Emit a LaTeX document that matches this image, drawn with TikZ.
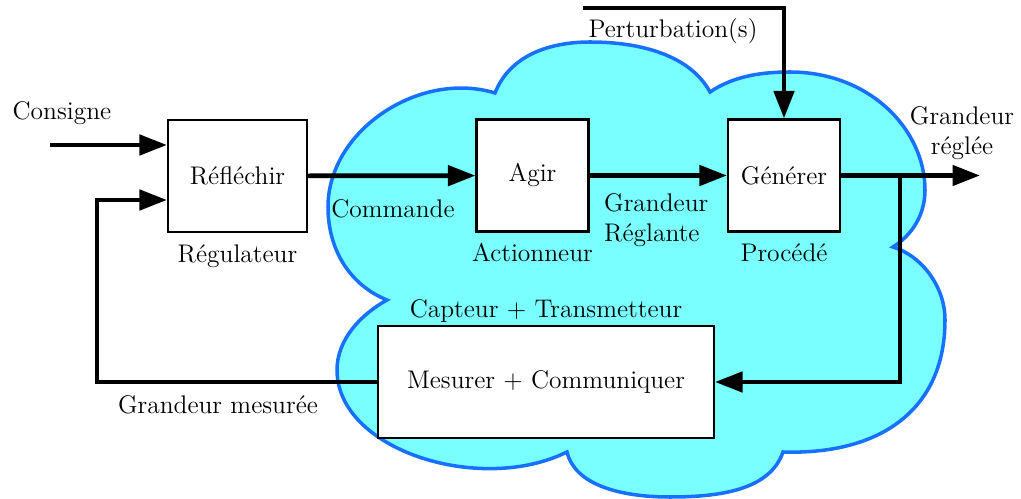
\documentclass[tikz,border=0pt]{standalone}
\usepackage{tikz}
\usetikzlibrary{arrows.meta,positioning}

\definecolor{cloudcyan}{RGB}{122,255,255}
\definecolor{cloudblue}{RGB}{24,112,255}

\begin{document}
\begin{tikzpicture}[
    x=0.02cm, y=-0.02cm,
    node distance=0.1cm,
    box/.style={
        draw,
        fill=white,
        line width=1.2pt,
        minimum width=2.24cm,
        minimum height=2.24cm
    },
    flow/.style={
        line width=2.7pt,
        -{Triangle[length=0.55cm,width=0.4cm]}
    },
    cloud/.style={fill=cloudcyan, draw=cloudblue, line width=2pt},
    font=\fontsize{14.5}{17}\selectfont
]

\useasboundingbox (0,0) rectangle (1021,499);

% nuage
\filldraw[cloud] (387,300)
    .. controls (350,285) and (328,250) .. (328,207)
    .. controls (328,130) and (420,70) .. (495,93)
    .. controls (510,55) and (550,42) .. (590,42)
    .. controls (640,42) and (690,55) .. (710,92)
    .. controls (735,75) and (765,72) .. (790,72)
    .. controls (870,72) and (925,130) .. (925,190)
    .. controls (925,215) and (912,235) .. (893,247)
    .. controls (920,255) and (945,285) .. (945,320)
    .. controls (945,410) and (880,455) .. (783,452)
    .. controls (770,490) and (720,497) .. (670,497)
    .. controls (620,497) and (575,485) .. (567,452)
    .. controls (480,495) and (337,450) .. (337,370)
    .. controls (337,340) and (360,315) .. (387,300)
    -- cycle;

% blocs
\node[box, minimum width=2.78cm] (refl) at (237.5,176) {Réfléchir};
\node[box] (agir) at (532.5,175.5) {Agir};
\node[box] (gen) at (784,175.5) {Générer};
\node[box, minimum width=6.72cm] (mes) at (546,382) {Mesurer + Communiquer};

\node[below=of refl] (regul) {Régulateur};
\node[below=of agir] (act) {Actionneur};
\node[below=of gen] (proc) {Procédé};
\node[above=0pt of mes, inner sep=1pt] (capt) {Capteur + Transmetteur};

% entrees / sorties
\coordinate (in) at (50,145);
\coordinate (fb) at (97,200);
\coordinate (out) at (980,175.5);
\coordinate (br) at (900,175.5);
\coordinate (pert) at (583,8);

\draw[flow] (in) -- (in -| refl.west);
\draw[flow] (refl) -- (agir);
\draw[flow] (agir) -- (gen);
\draw[flow] (gen) -- (out);
\draw[flow] (pert) -| (gen.north);
\draw[flow] (br) |- (mes.east);
\draw[flow] (mes.west) -| (fb) -- (fb -| refl.west);

% textes
\node (cons) at (62,113) {Consigne};
\node (cmd) at (393,209) {Commande};
\node[align=left, anchor=west] (grl) at (598,220) {Grandeur\\Réglante};
\node[align=center] (gre) at (962,133) {Grandeur\\réglée};
\node (pertlbl) at (673,31) {Perturbation(s)};
\node (gmes) at (218,405) {Grandeur mesurée};

\end{tikzpicture}
\end{document}
